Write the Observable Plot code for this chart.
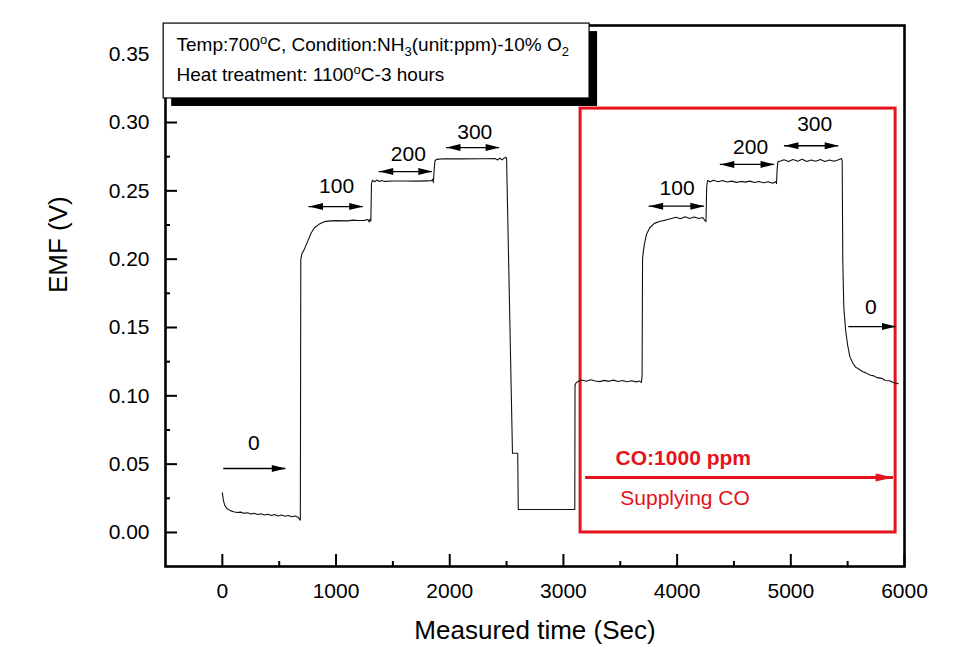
<!DOCTYPE html>
<html><head><meta charset="utf-8">
<script src="https://cdn.jsdelivr.net/npm/d3@7"></script>
<script src="https://cdn.jsdelivr.net/npm/@observablehq/plot@0.6"></script>
<style>body{margin:0;background:#fff} #chart svg{display:block}</style>
</head><body><div id="chart"></div>
<script>
// ---- data ----
const time = [0,8,20,40,70,100,130,160,190,220,250,280,310,340,370,400,430,460,490,520,550,580,610,640,665,678,686,
  690,700,720,750,780,810,850,900,950,1000,1100,1150,1200,1250,1280,1292,1300,1306,
  1312,1320,1340,1360,1380,1400,1430,1500,1600,1700,1800,1840,1850,1856,
  1862,1870,1885,1950,2100,2300,2400,2420,2440,2460,2480,2495,2500,
  2552,2598,2603,3100,
  3102,3112,3135,3160,3200,3240,3280,3320,3360,3400,3440,3480,3520,3560,3600,3640,3670,3686,
  3692,3696,3702,3712,3730,3760,3800,3850,3900,3950,3990,4030,4070,4110,4150,4190,4225,4245,4254,
  4260,4268,4290,4320,4360,4400,4440,4480,4520,4560,4600,4640,4680,4720,4760,4800,4840,4866,4874,
  4880,4886,4910,4940,4980,5020,5060,5100,5140,5180,5220,5260,5300,5340,5380,5420,5446,5452,
  5457,5466,5482,5500,5520,5545,5570,5600,5630,5660,5695,5730,5760,5800,5830,5870,5900,5930,5945];
const emf = [0.029,0.024,0.020,0.0175,0.0160,0.0152,0.0146,0.0149,0.0140,0.0144,0.0135,0.0140,0.0131,0.0137,0.0128,0.0134,0.0124,0.0131,0.0121,0.0128,0.0119,0.0124,0.0115,0.0120,0.0112,0.0098,0.0090,
  0.200,0.204,0.207,0.213,0.219,0.223,0.2255,0.2275,0.2280,0.2282,0.2280,0.2286,0.2283,0.2284,0.2290,0.2272,0.2294,0.2280,
  0.2555,0.2577,0.2567,0.2579,0.2568,0.2576,0.2569,0.2572,0.2572,0.2571,0.2573,0.2574,0.2585,0.2562,
  0.2640,0.2720,0.2730,0.2735,0.2734,0.2735,0.2736,0.2726,0.2739,0.2727,0.2741,0.2745,0.2735,
  0.0580,0.0580,0.0168,0.0168,
  0.1080,0.1095,0.1108,0.1116,0.1107,0.1118,0.1109,0.1104,0.1113,0.1106,0.1115,0.1105,0.1112,0.1103,0.1110,0.1102,0.1108,0.1098,
  0.1150,0.2000,0.2050,0.2110,0.2180,0.2230,0.2262,0.2278,0.2286,0.2298,0.2307,0.2296,0.2310,0.2298,0.2309,0.2297,0.2305,0.2282,0.2276,
  0.2530,0.2576,0.2566,0.2577,0.2567,0.2576,0.2565,0.2571,0.2562,0.2569,0.2564,0.2571,0.2561,0.2568,0.2559,0.2566,0.2556,0.2566,0.2553,
  0.2660,0.2712,0.2718,0.2727,0.2714,0.2729,0.2717,0.2731,0.2715,0.2726,0.2717,0.2729,0.2714,0.2726,0.2716,0.2728,0.2737,0.2720,
  0.2000,0.1650,0.1480,0.1370,0.1285,0.1240,0.1210,0.1195,0.1178,0.1168,0.1152,0.1146,0.1133,0.1128,0.1112,0.1110,0.1098,0.1092,0.1088];

const xMajor = [0,1000,2000,3000,4000,5000,6000];
const xMinor = [500,1500,2500,3500,4500,5500];
const yMajor = [0,0.05,0.10,0.15,0.20,0.25,0.30,0.35];
const yMinor = [0.025,0.075,0.125,0.175,0.225,0.275,0.325];

// double-headed concentration arrows
const dblX1 = [762,1380,1971,3754,4380,4944];
const dblX2 = [1239,1847,2439,4240,4857,5421];
const dblY  = [0.2385,0.2641,0.2817,0.2388,0.2693,0.2830];
const dblLabel  = ["100","200","300","100","200","300"];
const dblLabelX = [1005,1636,2220,4000,4646,5210];
const dblLabelY = [0.2530,0.2770,0.2930,0.2517,0.2817,0.2990];

// single-headed "0" arrows
const sglX1 = [12,5510];
const sglX2 = [558,5925];
const sglY  = [0.0468,0.1507];
const sglLabel  = ["0","0"];
const sglLabelX = [277,5705];
const sglLabelY = [0.0650,0.1646];

// red CO box and arrow
const coBoxX = [3151,5922];
const coBoxY = [0,0.3102];
const coArrowX = [3195,5904];
const coArrowY = [0.0402];
const coLabels = ["CO:1000 ppm","Supplying CO"];
const coLabelX = [3459,3500];
const coLabelY = [0.0541,0.0249];

// legend box
const legendBoxX = [-516,3230];
const legendBoxY = [0.3176,0.3724];
const legendLines = ["Temp:700°C, Condition:NH3(unit:ppm)-10% O2","Heat treatment: 1100°C-3 hours"];
const legendX = [-403,-403];
const legendY = [0.3571,0.3346];
const legendParts = [
  [["Temp:700",""],["o","sup"],["C, Condition:NH",""],["3","sub"],["(unit:ppm)-10% O",""],["2","sub"]],
  [["Heat treatment: 1100",""],["o","sup"],["C-3 hours",""]]
];

// ---- build tables ----
const series = time.map((t,i)=>({t, v: emf[i]}));
const dbl = dblX1.map((x1,i)=>({x1, x2: dblX2[i], y: dblY[i], label: dblLabel[i], lx: dblLabelX[i], ly: dblLabelY[i]}));
const sgl = sglX1.map((x1,i)=>({x1, x2: sglX2[i], y: sglY[i], label: sglLabel[i], lx: sglLabelX[i], ly: sglLabelY[i]}));
const coBox = [{x1: coBoxX[0], x2: coBoxX[1], y1: coBoxY[0], y2: coBoxY[1]}];
const coArrow = [{x1: coArrowX[0], x2: coArrowX[1], y: coArrowY[0]}];
const coText = coLabels.map((s,i)=>({s, x: coLabelX[i], y: coLabelY[i], bold: i===0}));
const legBox = [{x1: legendBoxX[0], x2: legendBoxX[1], y1: legendBoxY[0], y2: legendBoxY[1]}];
const legText = legendLines.map((s,i)=>({s, x: legendX[i], y: legendY[i]}));

const RED = "#e5131b";
const headR = {draw(c){c.moveTo(0,0);c.lineTo(-14,-3.5);c.lineTo(-14,3.5);c.closePath();}};
const headL = {draw(c){c.moveTo(0,0);c.lineTo(14,-3.5);c.lineTo(14,3.5);c.closePath();}};
const headRed = {draw(c){c.moveTo(0,0);c.lineTo(-18,-4);c.lineTo(-18,4);c.closePath();}};

const W = 962, H = 667;
const mL = 165, mR = 58, mT = 25, mB = 101;
const innerW = W - mL - mR, innerH = H - mT - mB;

const svg = Plot.plot({
  width: W, height: H,
  marginLeft: mL, marginRight: mR, marginTop: mT, marginBottom: mB,
  style: {fontFamily: "'Liberation Sans', Arial, sans-serif", fontSize: "21px", background: "white", color: "black"},
  x: {domain: [-500, 6000]},
  y: {domain: [-0.0249, 0.371]},
  marks: [
    // red CO box
    Plot.rect(coBox, {x1: "x1", x2: "x2", y1: "y1", y2: "y2", fill: "none", stroke: RED, strokeWidth: 3}),
    // trace
    Plot.line(series, {x: "t", y: "v", stroke: "#111", strokeWidth: 1.1}),
    // ticks (inward)
    Plot.tickX(xMajor, {x: d=>d, insetTop: innerH - 12, stroke: "black", strokeWidth: 2}),
    Plot.tickX(xMinor, {x: d=>d, insetTop: innerH - 5, stroke: "black", strokeWidth: 2}),
    Plot.tickY(yMajor, {y: d=>d, insetRight: innerW - 12, stroke: "black", strokeWidth: 2}),
    Plot.tickY(yMinor, {y: d=>d, insetRight: innerW - 5, stroke: "black", strokeWidth: 2}),
    Plot.frame({stroke: "black", strokeWidth: 2.6}),
    // axes labels
    Plot.axisX({ticks: xMajor, tickSize: 0, tickPadding: 17, tickFormat: d => String(d), label: null, fontSize: 21}),
    Plot.axisY({ticks: yMajor, tickSize: 0, tickPadding: 16, tickFormat: d3.format(".2f"), label: null, fontSize: 21}),
    Plot.text(["EMF (V)"], {text: d=>d, frameAnchor: "left", rotate: -90, dx: -107, dy: -3, fontSize: 26, lineAnchor: "middle"}),
    Plot.text(["Measured time (Sec)"], {text: d=>d, frameAnchor: "bottom", dy: 64, fontSize: 26, lineAnchor: "middle"}),
    // double arrows
    Plot.ruleY(dbl, {y: "y", x1: "x1", x2: "x2", stroke: "black", strokeWidth: 1.3}),
    Plot.dot(dbl, {x: "x2", y: "y", symbol: headR, fill: "black", stroke: "none", r: 5}),
    Plot.dot(dbl, {x: "x1", y: "y", symbol: headL, fill: "black", stroke: "none", r: 5}),
    Plot.text(dbl, {x: "lx", y: "ly", text: "label", fontSize: 21}),
    // single arrows
    Plot.ruleY(sgl, {y: "y", x1: "x1", x2: "x2", stroke: "black", strokeWidth: 1.3}),
    Plot.dot(sgl, {x: "x2", y: "y", symbol: headR, fill: "black", stroke: "none", r: 5}),
    Plot.text(sgl, {x: "lx", y: "ly", text: "label", fontSize: 21}),
    // CO arrow + labels
    Plot.ruleY(coArrow, {y: "y", x1: "x1", x2: "x2", stroke: RED, strokeWidth: 3}),
    Plot.dot(coArrow, {x: "x2", y: "y", symbol: headRed, fill: RED, stroke: "none", r: 5}),
    Plot.text(coText.filter(d=>d.bold), {x: "x", y: "y", text: "s", fill: RED, fontWeight: "bold", textAnchor: "start", fontSize: 21, letterSpacing: -0.5}),
    Plot.text(coText.filter(d=>!d.bold), {x: "x", y: "y", text: "s", fill: RED, textAnchor: "start", fontSize: 21}),
    // legend box with shadow
    Plot.rect(legBox, {x1: "x1", x2: "x2", y1: "y1", y2: "y2", fill: "black", dx: 8, dy: 8}),
    Plot.rect(legBox, {x1: "x1", x2: "x2", y1: "y1", y2: "y2", fill: "white", stroke: "black", strokeWidth: 1.2}),
    Plot.text(legText, {x: "x", y: "y", text: "s", textAnchor: "start", fontSize: 19})
  ]
});

// sub/superscripts in the legend text
d3.select(svg).selectAll("text").each(function(){
  const i = legendLines.indexOf(this.textContent);
  if (i < 0) return;
  const el = d3.select(this);
  el.text(null);
  let shift = 0;
  for (const [s, kind] of legendParts[i]) {
    const target = kind === "sup" ? -7 : kind === "sub" ? 5 : 0;
    const t = el.append("tspan").text(s).attr("dy", target - shift);
    if (kind) t.attr("font-size", 13);
    shift = target;
  }
});

document.getElementById("chart").appendChild(svg);
</script>
</body></html>
